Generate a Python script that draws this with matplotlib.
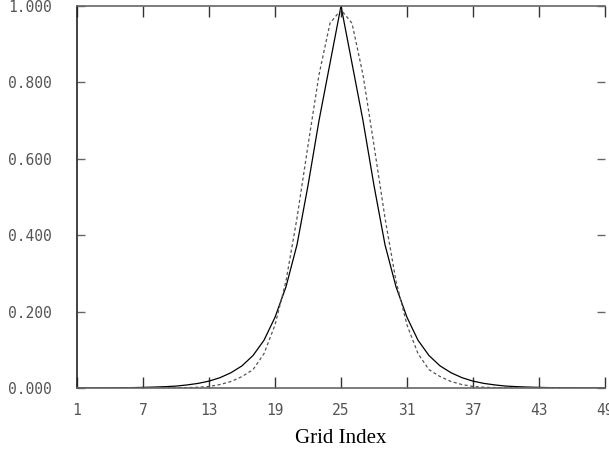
import matplotlib
matplotlib.use("Agg")
import matplotlib.pyplot as plt

# grid indices 1..49, peak at 25
grid_index = list(range(1, 50))

# solid curve, values read at distance 0..24 from the peak
solid_half = [1.0, 0.85, 0.70, 0.53, 0.375, 0.265, 0.185, 0.125, 0.085,
              0.058, 0.040, 0.027, 0.018, 0.012, 0.008, 0.005, 0.0035,
              0.0024, 0.0016, 0.001, 0.0007, 0.0005, 0.0003, 0.0002, 0.0001]
# dashed curve, same layout
dashed_half = [0.99, 0.955, 0.82, 0.635, 0.445, 0.28, 0.165, 0.09, 0.048,
               0.030, 0.017, 0.009, 0.004, 0.002, 0.001, 0.0005, 0.0002,
               0.0001, 0.0, 0.0, 0.0, 0.0, 0.0, 0.0, 0.0]

solid = solid_half[:0:-1] + solid_half
dashed = dashed_half[:0:-1] + dashed_half

x_ticks = [1, 7, 13, 19, 25, 31, 37, 43, 49]
y_ticks = [0.0, 0.2, 0.4, 0.6, 0.8, 1.0]

fig = plt.figure(figsize=(6.09, 4.5), dpi=100)
ax = fig.add_axes([77/609, 1-388/450, 528/609, 382/450])

ax.plot(grid_index, solid, color='black', lw=0.9)
ax.plot(grid_index, dashed, color='#555555', lw=0.9, ls=(0, (2.5, 2)))

ax.set_xlim(1, 49)
ax.set_ylim(0, 1)
ax.set_xticks(x_ticks)
ax.set_yticks(y_ticks)
ax.set_xticklabels([str(t) for t in x_ticks])
ax.set_yticklabels(['%.3f' % t for t in y_ticks])

for lab in ax.get_xticklabels() + ax.get_yticklabels():
    lab.set_fontfamily('DejaVu Sans Mono')
    lab.set_fontsize(10.5)
    lab.set_color('#555555')

ax.tick_params(axis='x', direction='in', length=8, width=1, pad=11,
               top=True, color='#333333')
ax.tick_params(axis='y', direction='in', length=6, width=1, pad=18,
               right=True, color='#666666')

for side in ['top', 'bottom']:
    ax.spines[side].set_color('#666666')
    ax.spines[side].set_linewidth(1.2)
ax.spines['left'].set_color('#222222')
ax.spines['left'].set_linewidth(1.2)
ax.spines['right'].set_visible(False)

ax.set_xlabel('Grid Index', family='Liberation Serif', size=15, labelpad=8)

fig.savefig('out.png', dpi=100)
